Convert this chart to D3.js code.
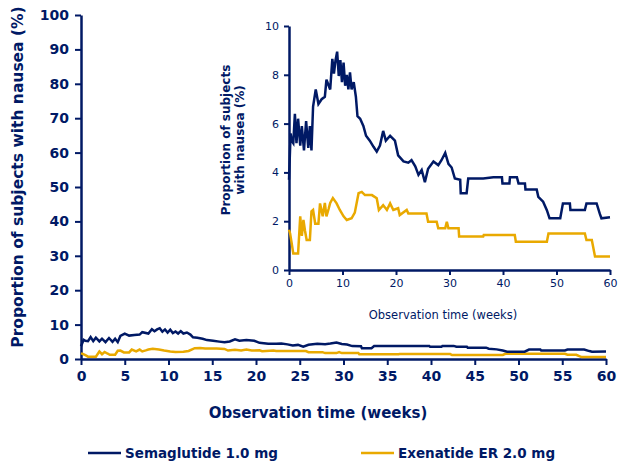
<!DOCTYPE html>
<html><head><meta charset="utf-8">
<script src="https://cdn.jsdelivr.net/npm/d3@7"></script>
<style>
html,body{margin:0;padding:0;background:#fff;}
svg{display:block;font-family:"DejaVu Sans",Verdana,sans-serif;}
</style></head>
<body>
<svg id="chart" width="619" height="467"></svg>
<script>
// ---- data ----
const semaWeeks = [0,0.3,0.5,0.8,1.1,1.4,1.7,2.1,2.4,2.8,3.2,3.6,3.9,4.2,4.5,5.0,5.5,6.1,6.7,7.0,7.7,8.1,8.4,8.7,9.0,9.3,9.6,9.9,10.2,10.5,10.8,11.1,11.4,11.7,12.1,12.5,12.8,13.3,13.9,14.4,15.1,15.8,16.4,17.0,17.6,18.1,18.9,19.8,20.4,21.4,22.3,22.9,23.6,24.2,24.8,25.4,26.0,27.0,27.9,28.5,29.2,29.8,30.4,31.0,32.0,32.1,33.2,33.5,36.3,38.2,39.8,39.9,41.2,41.3,42.6,42.9,44.1,44.2,46.3,46.6,47.5,48.2,48.7,50.7,51.2,52.5,52.6,55.3,55.6,57.5,58.1,58.4,60];
const semaValues = [3.7,5.6,5.3,5.2,6.4,5.2,6.2,5.1,5.9,4.9,6.1,5.0,5.9,4.9,6.7,7.4,6.8,7.0,7.1,7.8,7.4,8.65,8.05,8.6,8.95,7.95,8.6,7.7,8.5,7.55,8.0,7.4,8.1,7.4,7.7,7.1,6.3,6.2,5.9,5.5,5.3,5.05,4.85,5.1,5.7,5.3,5.5,5.3,4.7,4.45,4.4,4.5,4.25,3.9,4.1,3.6,4.15,4.45,4.3,4.5,4.8,4.35,4.2,3.75,3.7,3.15,3.15,3.75,3.75,3.8,3.8,3.55,3.55,3.8,3.8,3.55,3.55,3.3,3.3,3.0,2.8,2.45,2.12,2.12,2.73,2.73,2.46,2.46,2.73,2.73,2.3,2.12,2.16];
const exenWeeks = [0,0.2,0.5,0.8,1.7,2.1,2.4,2.7,3.0,3.3,3.9,4.2,4.5,4.9,5.5,5.8,6.3,6.7,7.0,7.4,7.7,8.2,8.9,9.5,10.2,10.8,11.7,12.3,13.0,13.6,14.2,15.5,16.4,16.8,17.6,18.3,18.9,19.5,20.4,20.7,22.0,22.3,25.7,26.0,27.6,27.9,29.2,29.5,29.8,31.7,31.8,36.3,36.4,42.2,42.4,48.2,48.5,55.3,55.6,56.6,57.2,60];
const exenValues = [1.65,1.5,1.1,0.68,0.68,2.2,1.4,2.05,1.6,1.23,1.23,2.4,2.46,1.9,1.9,2.73,2.2,2.75,2.2,2.5,2.75,2.95,2.73,2.46,2.2,2.05,2.12,2.35,3.15,3.2,3.07,3.07,2.94,2.46,2.66,2.46,2.73,2.46,2.53,2.25,2.46,2.32,2.32,1.98,1.98,1.71,1.71,1.98,1.71,1.71,1.37,1.37,1.43,1.43,1.16,1.16,1.5,1.5,1.23,1.23,0.55,0.55];

const mainXTicks = [0,5,10,15,20,25,30,35,40,45,50,55,60];
const mainYTicks = [0,10,20,30,40,50,60,70,80,90,100];
const insetXTicks = [0,10,20,30,40,50,60];
const insetYTicks = [0,2,4,6,8,10];
const seriesNames = ["Semaglutide 1.0 mg","Exenatide ER 2.0 mg"];

const NAVY = "#001965", GOLD = "#e9a900";
const sema = semaWeeks.map((w,i)=>({w, v: semaValues[i]}));
const exen = exenWeeks.map((w,i)=>({w, v: exenValues[i]}));

const svg = d3.select("#chart");

// ---- main chart ----
const x = d3.scaleLinear().domain([0,60]).range([81,606]);
const y = d3.scaleLinear().domain([0,100]).range([359,15]);

function styleAxis(g, size, bold){
  g.select(".domain").attr("stroke",NAVY).attr("stroke-width",2.5);
  g.selectAll(".tick line").attr("stroke",NAVY).attr("stroke-width",2);
  g.selectAll(".tick text").attr("fill",NAVY).attr("font-size",size)
    .attr("font-weight",bold?"bold":"normal").attr("font-family","DejaVu Sans, Verdana, sans-serif");
}

const xAx = svg.append("g").attr("transform","translate(0,359)")
  .call(d3.axisBottom(x).tickValues(mainXTicks).tickSize(6).tickSizeOuter(0).tickPadding(6));
styleAxis(xAx, 14, true);
const yAx = svg.append("g").attr("transform","translate(81,0)")
  .call(d3.axisLeft(y).tickValues(mainYTicks).tickSize(6).tickSizeOuter(0).tickPadding(6));
styleAxis(yAx, 14, true);

const lineMain = d3.line().x(d=>x(d.w)).y(d=>y(d.v));
svg.append("path").datum(exen).attr("d",lineMain).attr("fill","none").attr("stroke",GOLD).attr("stroke-width",2.5);
svg.append("path").datum(sema).attr("d",lineMain).attr("fill","none").attr("stroke",NAVY).attr("stroke-width",2.5);

svg.append("text").attr("transform","translate(23,177) rotate(-90)").attr("text-anchor","middle")
  .attr("fill",NAVY).attr("font-size",15.5).attr("font-weight","bold").text("Proportion of subjects with nausea (%)");
svg.append("text").attr("x",318).attr("y",418).attr("text-anchor","middle")
  .attr("fill",NAVY).attr("font-size",15).attr("font-weight","bold").text("Observation time (weeks)");

// ---- inset ----
const xi = d3.scaleLinear().domain([0,60]).range([289,610]);
const yi = d3.scaleLinear().domain([0,10]).range([270,26]);
const xiAx = svg.append("g").attr("transform","translate(0,270)")
  .call(d3.axisBottom(xi).tickValues(insetXTicks).tickSize(5).tickSizeOuter(0).tickPadding(4));
styleAxis(xiAx, 11, false);
const yiAx = svg.append("g").attr("transform","translate(289,0)")
  .call(d3.axisLeft(yi).tickValues(insetYTicks).tickSize(5).tickSizeOuter(0).tickPadding(5));
styleAxis(yiAx, 11, false);

const lineIn = d3.line().x(d=>xi(d.w)).y(d=>yi(d.v));
svg.append("path").datum(exen).attr("d",lineIn).attr("fill","none").attr("stroke",GOLD).attr("stroke-width",2.5);
svg.append("path").datum(sema).attr("d",lineIn).attr("fill","none").attr("stroke",NAVY).attr("stroke-width",2.5);

const iy = svg.append("text").attr("transform","translate(230,140) rotate(-90)").attr("text-anchor","middle")
  .attr("fill",NAVY).attr("font-size",12).attr("font-weight","bold");
iy.append("tspan").attr("x",0).attr("dy",0).text("Proportion of subjects");
iy.append("tspan").attr("x",0).attr("dy",14).text("with nausea (%)");
svg.append("text").attr("x",443).attr("y",319).attr("text-anchor","middle")
  .attr("fill",NAVY).attr("font-size",11.5).text("Observation time (weeks)");

// ---- legend ----
const legend = [{name:seriesNames[0],color:NAVY,x:88},{name:seriesNames[1],color:GOLD,x:361}];
legend.forEach(l=>{
  svg.append("line").attr("x1",l.x).attr("x2",l.x+33).attr("y1",453).attr("y2",453).attr("stroke",l.color).attr("stroke-width",2.5);
  svg.append("text").attr("x",l.x+37).attr("y",458).attr("fill",NAVY).attr("font-size",13.5).attr("font-weight","bold").text(l.name);
});
</script>
</body></html>
